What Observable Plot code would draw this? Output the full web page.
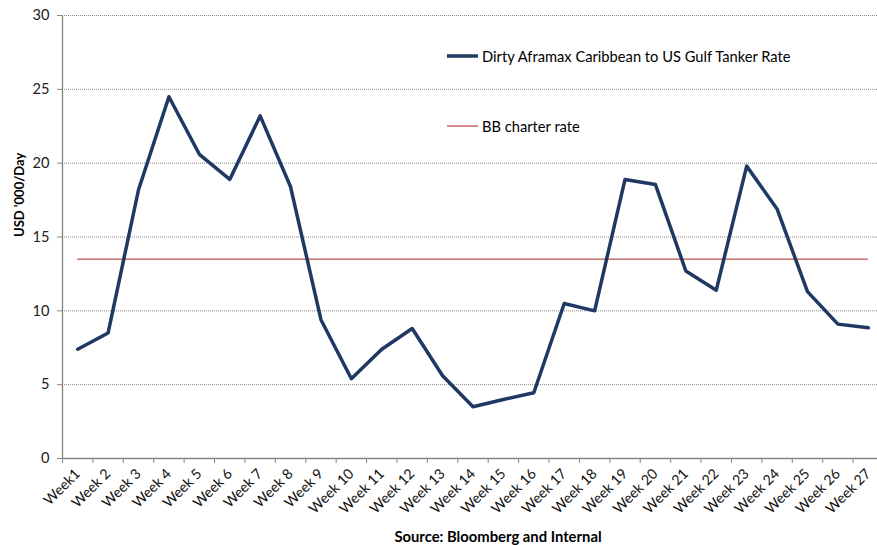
<!DOCTYPE html>
<html>
<head>
<meta charset="utf-8">
<script src="https://cdn.jsdelivr.net/npm/d3@7"></script>
<script src="https://cdn.jsdelivr.net/npm/@observablehq/plot@0.6"></script>
<style>
  body { margin: 0; background: #fff; font-family: Lato, "Open Sans", sans-serif; }
  #wrap { position: relative; width: 877px; height: 545px; overflow: hidden; }
  .legend { position: absolute; left: 447px; height: 20px; font-size: 14.7px; color: #000;
            display: flex; align-items: center; white-space: nowrap; }
  .legend svg { margin-right: 4px; }
  #caption { position: absolute; top: 527px; left: 0; width: 996px; text-align: center;
             font-weight: bold; font-size: 14.8px; color: #000; }
</style>
</head>
<body>
<div id="wrap">
  <div class="legend" style="top:46px">
    <svg width="31" height="6"><line x1="0" x2="31" y1="3" y2="3" stroke="#1f3864" stroke-width="3.5"/></svg>
    Dirty Aframax Caribbean to US Gulf Tanker Rate
  </div>
  <div class="legend" style="top:116px">
    <svg width="31" height="6"><line x1="0" x2="31" y1="3" y2="3" stroke="#c0504d" stroke-width="1.3"/></svg>
    BB charter rate
  </div>
  <div id="caption">Source: Bloomberg and Internal</div>
</div>
<script>
// Weekly tanker rates, USD '000 per day
const weeks = ["Week1", "Week 2", "Week 3", "Week 4", "Week 5", "Week 6", "Week 7", "Week 8", "Week 9",
  "Week 10", "Week 11", "Week 12", "Week 13", "Week 14", "Week 15", "Week 16", "Week 17", "Week 18",
  "Week 19", "Week 20", "Week 21", "Week 22", "Week 23", "Week 24", "Week 25", "Week 26", "Week 27"];
const tankerRate = [7.4, 8.5, 18.2, 24.5, 20.6, 18.9, 23.2, 18.4, 9.4, 5.4, 7.4, 8.8, 5.6, 3.5, 4.0,
  4.45, 10.5, 10.0, 18.9, 18.55, 12.7, 11.4, 19.8, 16.9, 11.3, 9.1, 8.85];
const charterRate = 13.5;
const yTicks = [0, 5, 10, 15, 20, 25, 30];

// each week sits in the middle of its category slot
const rows = weeks.map((week, i) => ({ week, pos: i + 0.5, rate: tankerRate[i] }));
const slotEdges = d3.range(0, weeks.length);

const axisColor = "#868686";
const font = "Lato, 'Open Sans', sans-serif";

const chart = Plot.plot({
  width: 877,
  height: 545,
  marginLeft: 62,
  marginRight: 0,
  marginTop: 15,
  marginBottom: 87,
  style: { fontFamily: font, background: "transparent", overflow: "hidden" },
  x: { type: "linear", domain: [0, weeks.length], range: [62, 883] },
  y: { domain: [0, 30] },
  marks: [
    Plot.gridY(yTicks.filter(v => v > 0), { stroke: "#8a8a8a", strokeOpacity: 1, strokeDasharray: "1,1" }),
    Plot.ruleX([0], { stroke: axisColor, strokeWidth: 1.3 }),
    Plot.ruleY([0], { stroke: axisColor, strokeWidth: 1.3 }),
    Plot.axisY(yTicks, { tickSize: 5, tickPadding: 8, fontSize: 14.6, stroke: axisColor, color: "#222", label: null }),
    Plot.axisX(slotEdges, { tickSize: 5, stroke: axisColor, tickFormat: () => "", label: null }),
    Plot.axisX(rows.map(d => d.pos), {
      tickSize: 0, tickPadding: 13, tickRotate: -45, fontSize: 14.2, color: "#111",
      tickFormat: p => weeks[Math.floor(p)], label: null
    }),
    Plot.text(["USD '000/Day"], { frameAnchor: "left", rotate: -90, dx: -43, fontSize: 13, fontWeight: "bold", fill: "#000" }),
    Plot.ruleY([charterRate], { x1: rows[0].pos, x2: rows[rows.length - 1].pos, stroke: "#c0504d", strokeWidth: 1.3 }),
    Plot.line(rows, { x: "pos", y: "rate", stroke: "#1f3864", strokeWidth: 3.5 })
  ]
});
document.getElementById("wrap").prepend(chart);
chart.style.position = "absolute";
chart.style.left = "0";
chart.style.top = "0";
</script>
</body>
</html>
